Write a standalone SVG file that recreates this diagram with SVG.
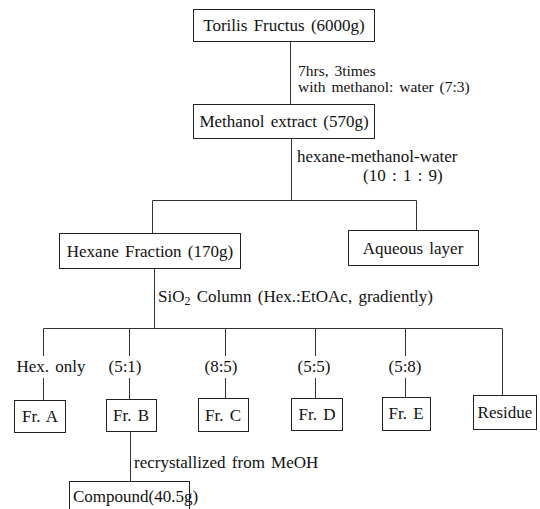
<svg xmlns="http://www.w3.org/2000/svg" width="540" height="509" viewBox="0 0 540 509">
<style>
.bg{fill:#fff}
.box{fill:#fff;stroke:#222;stroke-width:1}
.ln{fill:none;stroke:#333;stroke-width:1}
text{font-family:'Liberation Serif','Times New Roman','DejaVu Serif',serif;font-size:17px;fill:#111;word-spacing:2px}
.c{text-anchor:middle}
.s{font-size:15.5px}
</style>
<rect class="bg" x="0" y="0" width="540" height="509"/>
<g id="connectors">
<path class="ln" d="M290.5 41V104"/>
<path class="ln" d="M291.5 138V200.5"/>
<path class="ln" d="M152.5 233V200.5H416.5V230"/>
<path class="ln" d="M154.5 269V328.5"/>
<path class="ln" d="M43.5 356V328.5H502.5V395"/>
<path class="ln" d="M129.5 328.5V356M225.5 328.5V356M315.5 328.5V356M405.5 328.5V356"/>
<path class="ln" d="M43.5 378V400M129.5 378V399M225.5 378V398M315.5 378V398M405.5 378V397"/>
<path class="ln" d="M130.5 431V481"/>
</g>
<g id="labels">
<text class="s" x="298" y="76">7hrs, 3times</text>
<text class="s" x="298" y="92">with methanol: water (7:3)</text>
<text x="297" y="162">hexane-methanol-water</text>
<text x="363" y="181">(10 : 1 : 9)</text>
<text x="158" y="302">SiO<tspan font-size="12" dy="3">2</tspan><tspan dy="-3"> Column (Hex.:EtOAc, gradiently)</tspan></text>
<text class="c" x="51" y="372">Hex. only</text>
<text class="c" x="125" y="372">(5:1)</text>
<text class="c" x="221" y="372">(8:5)</text>
<text class="c" x="314" y="372">(5:5)</text>
<text class="c" x="405" y="372">(5:8)</text>
<text x="134" y="468">recrystallized from MeOH</text>
</g>
<g id="torilis"><rect class="box" x="193.5" y="9.5" width="181" height="32"/><text class="c" x="284" y="31">Torilis Fructus (6000g)</text></g>
<g id="methanol"><rect class="box" x="193.5" y="104.5" width="181" height="34"/><text class="c" x="284" y="127">Methanol extract (570g)</text></g>
<g id="hexane"><rect class="box" x="59.5" y="233.5" width="181" height="35"/><text class="c" x="150" y="257">Hexane Fraction (170g)</text></g>
<g id="aqueous"><rect class="box" x="348.5" y="230.5" width="130" height="35"/><text class="c" x="413" y="254">Aqueous layer</text></g>
<g id="frA"><rect class="box" x="14.5" y="400.5" width="51" height="32"/><text class="c" x="40" y="422">Fr. A</text></g>
<g id="frB"><rect class="box" x="106.5" y="399.5" width="50" height="32"/><text class="c" x="131" y="421">Fr. B</text></g>
<g id="frC"><rect class="box" x="198.5" y="398.5" width="50" height="33"/><text class="c" x="223" y="421">Fr. C</text></g>
<g id="frD"><rect class="box" x="291.5" y="398.5" width="51" height="32"/><text class="c" x="317" y="420">Fr. D</text></g>
<g id="frE"><rect class="box" x="382.5" y="397.5" width="48" height="33"/><text class="c" x="406" y="419">Fr. E</text></g>
<g id="residue"><rect class="box" x="473.5" y="395.5" width="63" height="34"/><text class="c" x="505" y="418">Residue</text></g>
<g id="compound"><rect class="box" x="69.5" y="481.5" width="120" height="40"/><text x="73" y="502">Compound(40.5g)</text></g>
</svg>
